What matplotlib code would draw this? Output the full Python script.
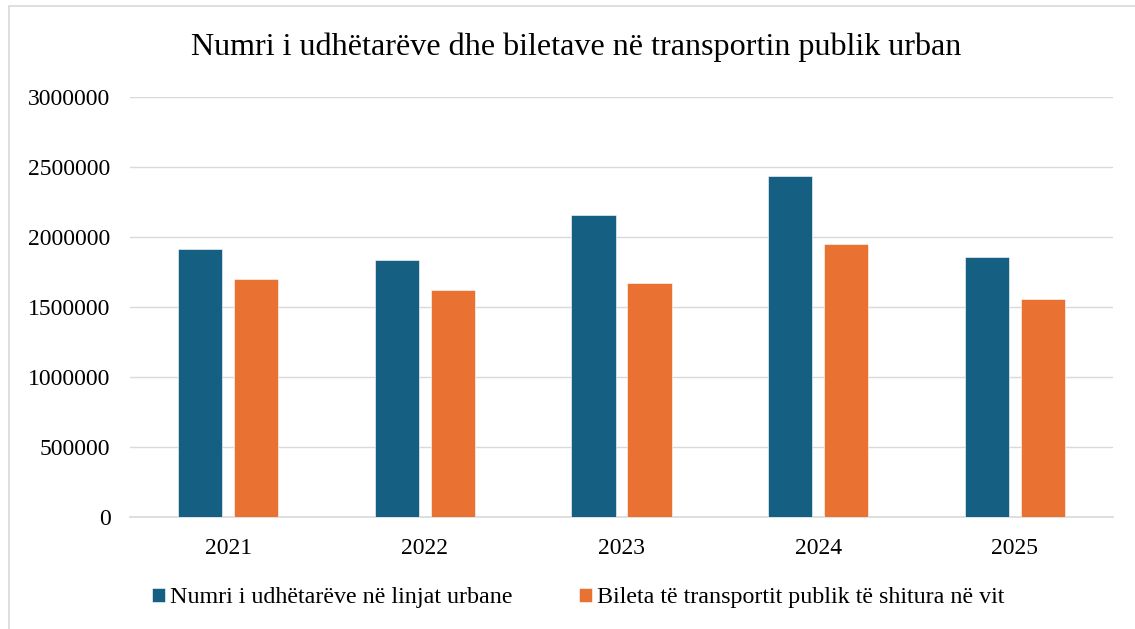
import numpy as np
import matplotlib
matplotlib.use("Agg")
import matplotlib.pyplot as plt
from matplotlib.patches import Rectangle

TITLE = "Numri i udhëtarëve dhe biletave në transportin publik urban"

years = ["2021", "2022", "2023", "2024", "2025"]
passengers = [1917000, 1838000, 2155000, 2438000, 1860000]
tickets = [1702000, 1621000, 1669000, 1950000, 1560000]

LABEL_PASSENGERS = "Numri i udhëtarëve në linjat urbane"
LABEL_TICKETS = "Bileta të transportit publik të shitura në vit"

BLUE = "#156082"
ORANGE = "#E97132"
GRID = "#d9d9d9"

plt.rcParams["font.family"] = ["Liberation Serif", "DejaVu Serif"]


def main():
    fig = plt.figure(figsize=(11.35, 6.29), dpi=100)
    ax = fig.add_axes([130 / 1135, 112 / 629, 983 / 1135, 420 / 629])

    # chart frame (left/top edges visible, rest cropped)
    fig.patches.append(Rectangle((9 / 1135, -0.1), 1.2, (629 - 6) / 629 + 0.1,
                                 transform=fig.transFigure, fill=False,
                                 edgecolor="#d9d9d9", linewidth=1.2))

    x = np.arange(len(years))
    width = 0.224
    offset = 0.1425

    ax.bar(x - offset, passengers, width, color=BLUE, label=LABEL_PASSENGERS,
           edgecolor="white", linewidth=0.4, zorder=3)
    ax.bar(x + offset, tickets, width, color=ORANGE, label=LABEL_TICKETS,
           edgecolor="white", linewidth=0.4, zorder=3)

    ax.set_xlim(-0.5, len(years) - 0.5)
    ax.set_ylim(0, 3000000)
    ax.set_yticks(np.arange(0, 3000001, 500000))
    ax.set_yticklabels([f"{v:d}" for v in range(0, 3000001, 500000)])
    ax.set_xticks(x)
    ax.set_xticklabels(years)

    ax.grid(axis="y", color=GRID, linewidth=1.0, zorder=0)
    for side in ["top", "right", "left"]:
        ax.spines[side].set_visible(False)
    ax.spines["bottom"].set_color(GRID)
    ax.spines["bottom"].set_linewidth(1.2)
    ax.tick_params(axis="both", length=0, labelsize=17, colors="black")
    ax.tick_params(axis="y", pad=14)
    ax.tick_params(axis="x", pad=15)

    fig.text(576 / 1135, 1 - 47 / 629, TITLE, ha="center", va="center",
             fontsize=23.1)

    fig.legend(loc="center", bbox_to_anchor=(578 / 1135, 1 - 598 / 629),
               ncol=2, frameon=False, fontsize=17.3, handlelength=0.55,
               handleheight=0.55, handletextpad=0.2, columnspacing=2.75)

    fig.savefig("out.png", dpi=100)


if __name__ == "__main__":
    main()
